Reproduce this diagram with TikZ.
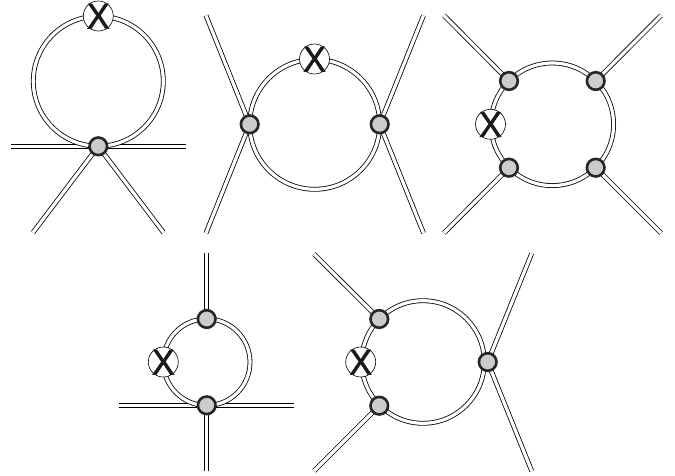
\documentclass[tikz,border=0pt]{standalone}
\usepackage{fontspec}
\setmainfont{Liberation Sans}
\newfontfamily\xfont[FakeBold=1.6]{Liberation Sans}
\usetikzlibrary{backgrounds}
\tikzset{
  dbl/.style={draw=black,line width=0.8pt,double=white,double distance=3.2pt},
  vert/.style={circle,draw=black!85,fill=black!20,line width=2.6pt,minimum size=17.6pt,inner sep=0pt},
  xnode/.style={circle,draw=black,fill=white,line width=0.6pt,minimum size=30pt,inner sep=0pt,
    font=\xfont\fontsize{36pt}{36pt}\selectfont,text=black!90},
}
\newcommand{\xmark}{\makebox[0pt]{\raisebox{-12.6pt}[0pt][0pt]{\scalebox{0.95}[1]{X}}}}
\begin{document}
\begin{tikzpicture}[x=1pt,y=-1pt]
\useasboundingbox (0,0) rectangle (675,476);
% diagram 1
\node[vert] (a1) at (98.3,146.3) {};
\node[xnode] (ax) at (98.3,16) {\xmark};
\coordinate (al) at (11,146.3);
\coordinate (ar) at (186,146.3);
\coordinate (abl) at (33,232.5);
\coordinate (abr) at (163.5,232.5);
% diagram 2
\node[vert] (b1) at (249.7,124.3) {};
\node[vert] (b2) at (379.7,124.3) {};
\node[xnode] (bx) at (314.5,59) {\xmark};
\coordinate (btl) at (206,15.5);
\coordinate (bbl) at (206,233);
\coordinate (btr) at (423.5,15.5);
\coordinate (bbr) at (423.5,233);
% diagram 3
\node[vert] (c1) at (509,81) {};
\node[vert] (c2) at (595.7,81) {};
\node[vert] (c3) at (509,167.7) {};
\node[vert] (c4) at (595.7,167.7) {};
\node[xnode] (cx) at (490.5,124.3) {\xmark};
\coordinate (ctl) at (444,15.5);
\coordinate (ctr) at (661,15.5);
\coordinate (cbl) at (444,233);
\coordinate (cbr) at (661,233);
% diagram 4
\node[vert] (d1) at (206.7,319) {};
\node[vert] (d2) at (206.7,405.3) {};
\node[xnode] (dx) at (163.3,362) {\xmark};
\coordinate (dt) at (206.7,253);
\coordinate (db) at (206.7,471);
\coordinate (dl) at (119.3,405.3);
\coordinate (dr) at (293.7,405.3);
% diagram 5
\node[vert] (e1) at (379.3,319) {};
\node[vert] (e2) at (379.3,405.7) {};
\node[vert] (e3) at (487.7,362) {};
\node[xnode] (ex) at (360.7,362) {\xmark};
\coordinate (etl) at (314,254);
\coordinate (ebl) at (314,471);
\coordinate (etr) at (531.7,253.5);
\coordinate (ebr) at (531.7,471);
\begin{pgfonlayer}{background}
\draw[dbl] (a1.center) -- (al);
\draw[dbl] (a1.center) -- (ar);
\draw[dbl] (a1.center) -- (abl);
\draw[dbl] (a1.center) -- (abr);
\draw[dbl] (98.3,81.2) circle (65pt);
\draw[dbl] (b1.center) -- (btl);
\draw[dbl] (b1.center) -- (bbl);
\draw[dbl] (b2.center) -- (btr);
\draw[dbl] (b2.center) -- (bbr);
\draw[dbl] (314.7,124.3) circle (65pt);
\draw[dbl] (c1.center) -- (ctl);
\draw[dbl] (c2.center) -- (ctr);
\draw[dbl] (c3.center) -- (cbl);
\draw[dbl] (c4.center) -- (cbr);
\draw[dbl] (552.3,124.3) circle (61.3pt);
\draw[dbl] (d1.center) -- (dt);
\draw[dbl] (d2.center) -- (db);
\draw[dbl] (d2.center) -- (dl);
\draw[dbl] (d2.center) -- (dr);
\draw[dbl] (206.7,362.2) circle (43.3pt);
\draw[dbl] (e1.center) -- (etl);
\draw[dbl] (e2.center) -- (ebl);
\draw[dbl] (e3.center) -- (etr);
\draw[dbl] (e3.center) -- (ebr);
\draw[dbl] (423,362) circle (61.3pt);
\end{pgfonlayer}
\end{tikzpicture}
\end{document}
